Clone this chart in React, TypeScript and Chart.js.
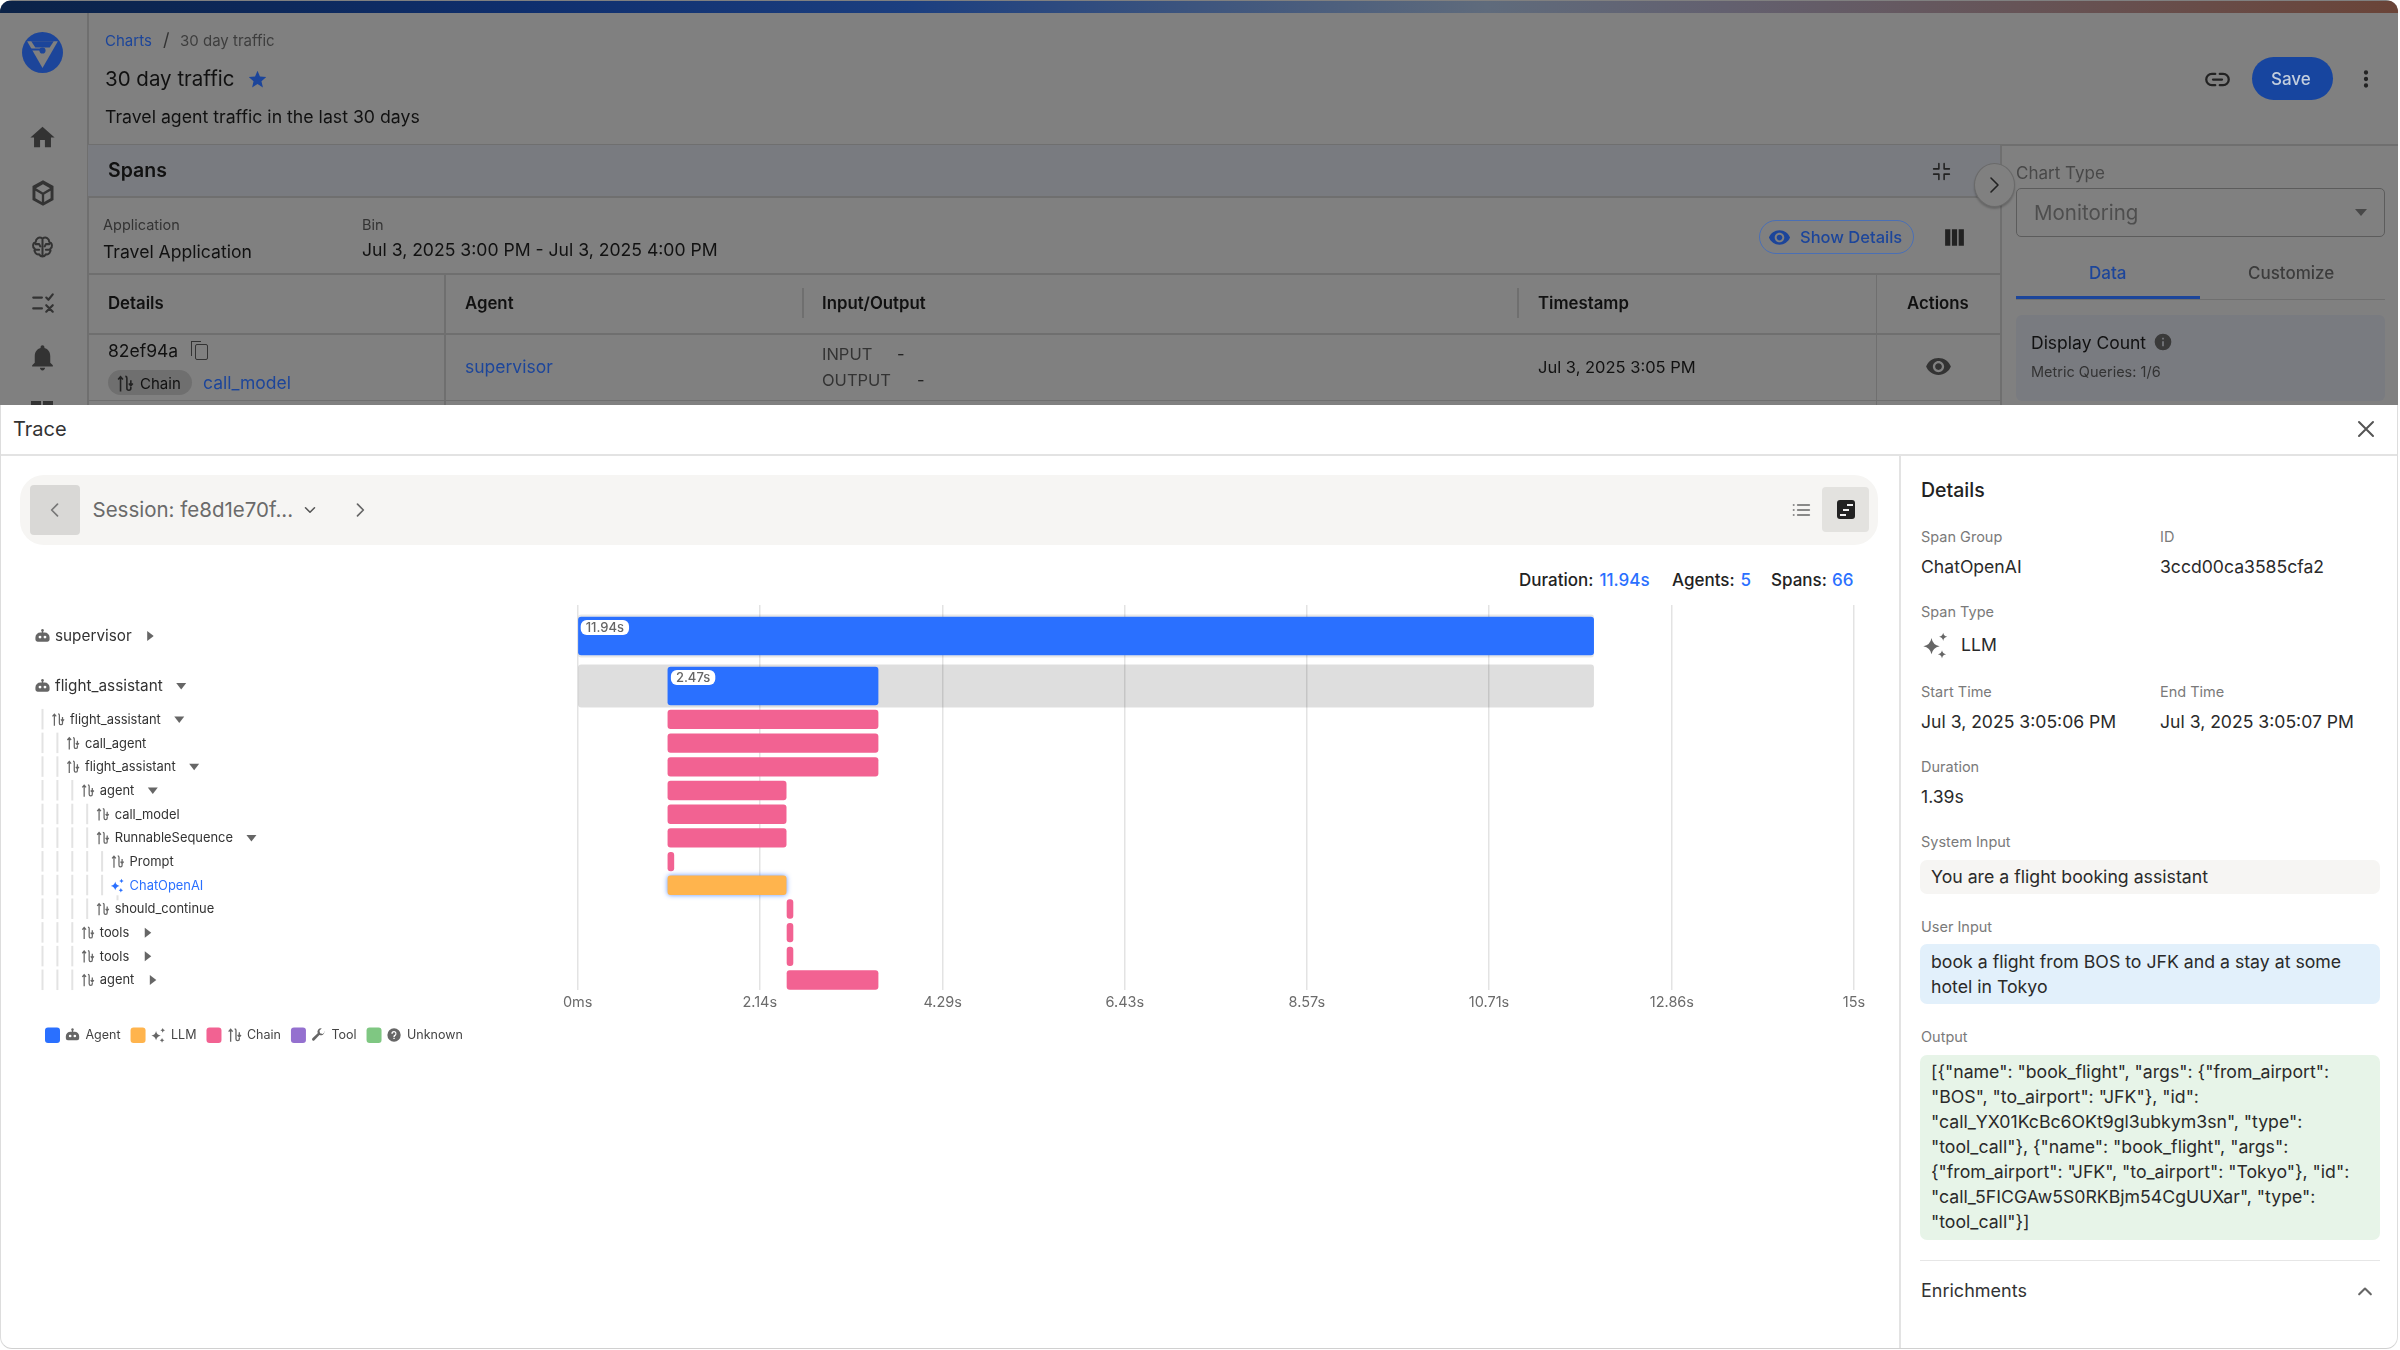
import React, { useEffect, useRef } from "react";
import Chart from "chart.js/auto";

// trace rows, top to bottom
const rowNames = ["supervisor", "flight_assistant", "flight_assistant", "call_agent", "flight_assistant", "agent", "call_model", "RunnableSequence", "Prompt", "ChatOpenAI", "should_continue", "tools", "tools", "agent"];
const rowDepths = [0, 0, 1, 2, 2, 3, 4, 4, 5, 5, 4, 3, 3, 3];
const rowCarets = ["right", "down", "down", "", "down", "down", "", "down", "", "", "", "right", "right", "right"];
const rowPositions = [1.31, 3.42, 4.83, 5.83, 6.83, 7.83, 8.83, 9.83, 10.83, 11.83, 12.83, 13.83, 14.83, 15.83];
const rowKinds = ["Agent", "Agent", "Chain", "Chain", "Chain", "Chain", "Chain", "Chain", "Chain", "LLM", "Chain", "Chain", "Chain", "Chain"];
const spanStarts = [0, 1.06, 1.06, 1.06, 1.06, 1.06, 1.06, 1.06, 1.06, 1.06, 2.46, 2.46, 2.46, 2.46];
const spanEnds = [11.94, 3.53, 3.53, 3.53, 3.53, 2.45, 2.45, 2.45, 1.13, 2.45, 2.53, 2.53, 2.53, 3.53];
const durationLabels = ["11.94s", "2.47s"];

// x axis
const tickValues = [0, 2.14, 4.29, 6.43, 8.57, 10.71, 12.86, 15];
const tickLabels = ["0ms", "2.14s", "4.29s", "6.43s", "8.57s", "10.71s", "12.86s", "15s"];

// legend
const legendNames = ["Agent", "LLM", "Chain", "Tool", "Unknown"];
const legendColors = ["#2a70ff", "#ffb44d", "#f26292", "#9470cf", "#7fc782"];

const FONT = "Inter, sans-serif";
const BLUE = "#2a70ff";

const iconPaths: Record<string, string> = {
  Agent: "M12 2a2 2 0 0 1 1 3.7V7h2a7 7 0 0 1 7 7v3a3 3 0 0 1-3 3H5a3 3 0 0 1-3-3v-3a7 7 0 0 1 7-7h2V5.7A2 2 0 0 1 12 2ZM8.5 11.5a2 2 0 1 0 0 4a2 2 0 0 0 0-4ZM15.5 11.5a2 2 0 1 0 0 4a2 2 0 0 0 0-4Z",
  LLM: "M9 6Q10 12 16 13Q10 14 9 20Q8 14 2 13Q8 12 9 6ZM19 1.5Q19.5 4.5 22.5 5Q19.5 5.5 19 8.5Q18.5 5.5 15.5 5Q18.5 4.5 19 1.5ZM18 16.5Q18.5 19.5 21.5 20Q18.5 20.5 18 23.5Q17.5 20.5 14.5 20Q17.5 19.5 18 16.5Z",
  Chain: "M7 22V4M4 7l3-3.5L10 7M13 3a2 2 0 0 1 2 2v13a2.5 2.5 0 0 0 5 0V8M17.5 12l2.5 3 2.5-3",
  Tool: "M21 7a5.5 5.5 0 0 1-7.5 5.1L6 20a2.1 2.1 0 0 1-3-3l7.9-7.5A5.5 5.5 0 0 1 17 2l-3.5 3.5 1 4 4 1L22 7Z",
  Unknown: "M12 2a10 10 0 1 0 0 20a10 10 0 0 0 0-20ZM11 16h2v2h-2ZM12 6a4 4 0 0 0-4 4h2a2 2 0 1 1 3 1.7c-1.2.7-2 1.5-2 3.3h2c0-1 .5-1.5 1.3-2A4 4 0 0 0 12 6Z",
  home: "M10 20v-6h4v6h5v-8h3L12 3 2 12h3v8z",
  box: "M12 1 21 6v12l-9 5-9-5V6zM12 11.500 18 8 12 4.500 6 8zM11 13.300 5.500 10V16.500L11 19.700zM13 13.300V19.700L18.500 16.500V10z",
  bell: "M12 22c1.100 0 2-.9 2-2h-4c0 1.100.9 2 2 2zm6-6v-5c0-3.070-1.630-5.640-4.500-6.320V4c0-.83-.67-1.500-1.500-1.500s-1.500.67-1.500 1.500v.68C7.640 5.360 6 7.920 6 11v5l-2 2v1h16v-1l-2-2z",
  eye: "M12 4.500C7 4.500 2.730 7.610 1 12c1.730 4.390 6 7.500 11 7.500s9.270-3.110 11-7.500c-1.730-4.390-6-7.500-11-7.500zM12 17c-2.760 0-5-2.240-5-5s2.240-5 5-5 5 2.240 5 5-2.240 5-5 5zm0-8c-1.660 0-3 1.340-3 3s1.340 3 3 3 3-1.340 3-3-1.340-3-3-3z",
  star: "M12 17.270 18.180 21l-1.640-7.030L22 9.240l-7.190-.61L12 2 9.190 8.630 2 9.240l5.460 4.730L5.820 21z",
  info: "M12 2a10 10 0 1 0 0 20a10 10 0 0 0 0-20ZM11 11h2v6h-2ZM11 7h2v2h-2Z",
  more: "M12 8a2 2 0 1 0 0-4a2 2 0 0 0 0 4ZM12 14a2 2 0 1 0 0-4a2 2 0 0 0 0 4ZM12 20a2 2 0 1 0 0-4a2 2 0 0 0 0 4Z",
  columns: "M3 4h5v16H3zM9.500 4h5v16h-5zM16 4h5v16h-5z",
};

const isStroked = (name: string) => name === "Chain";

function drawIcon(ctx: CanvasRenderingContext2D, name: string, cx: number, cy: number, size: number, color: string) {
  const p = new Path2D(iconPaths[name]);
  ctx.save();
  ctx.translate(cx - size / 2, cy - size / 2);
  ctx.scale(size / 24, size / 24);
  if (isStroked(name)) {
    ctx.strokeStyle = color;
    ctx.lineWidth = 2;
    ctx.stroke(p);
  } else {
    ctx.fillStyle = color;
    ctx.fill(p, "evenodd");
  }
  ctx.restore();
}

function drawCaret(ctx: CanvasRenderingContext2D, dir: string, x: number, y: number) {
  ctx.fillStyle = "#666666";
  ctx.beginPath();
  if (dir === "down") {
    ctx.moveTo(x - 5, y - 3);
    ctx.lineTo(x + 5, y - 3);
    ctx.lineTo(x, y + 3.500);
  } else {
    ctx.moveTo(x - 3, y - 5);
    ctx.lineTo(x + 3.500, y);
    ctx.lineTo(x - 3, y + 5);
  }
  ctx.closePath();
  ctx.fill();
}

// span tree on the left of the plot, placed with the y scale
const treePlugin = {
  id: "spanTree",
  afterDraw(chart: any) {
    const { ctx, scales } = chart;
    const y = scales.y;
    ctx.save();
    ctx.textBaseline = "middle";
    rowNames.forEach((name, i) => {
      const cy = y.getPixelForValue(rowPositions[i]);
      const depth = rowDepths[i];
      for (let k = 1; k <= depth; k++) {
        ctx.fillStyle = "#e3e3e3";
        ctx.fillRect(41.500 + (k - 1) * 14.900, cy - 10.500, 2, 20.500);
      }
      const top = depth === 0;
      const iconX = top ? 42.500 : 57.500 + (depth - 1) * 14.900;
      const textX = top ? 55 : 70 + (depth - 1) * 14.900;
      const selected = i === 9;
      drawIcon(ctx, rowKinds[i], iconX, cy, top ? 17 : 15, selected ? BLUE : "#666666");
      ctx.font = `${top ? 15.300 : 12.900}px ${FONT}`;
      ctx.fillStyle = selected ? BLUE : "#333333";
      ctx.fillText(name, textX, cy + 0.500);
      if (rowCarets[i]) drawCaret(ctx, rowCarets[i], textX + ctx.measureText(name).width + 18.500, cy);
    });
    ctx.fillStyle = "#e3e3e3";
    ctx.fillRect(116.500, y.getPixelForValue(rowPositions[9]) + 10, 2, 5);

    // legend row under the axis
    const ly = 475;
    let lx = 45;
    ctx.font = `12.500px ${FONT}`;
    legendNames.forEach((name, i) => {
      ctx.fillStyle = legendColors[i];
      ctx.beginPath();
      ctx.roundRect(lx, ly - 7.500, 15, 15.500, 3);
      ctx.fill();
      lx += 21;
      drawIcon(ctx, name, lx + 6.500, ly, 16, "#666666");
      lx += 19.500;
      ctx.fillStyle = "#444444";
      ctx.fillText(name, lx, ly + 0.500);
      lx += ctx.measureText(name).width + 10;
    });
    ctx.restore();
  },
};

// duration pills on the two agent bars
const pillPlugin = {
  id: "durationPills",
  afterDatasetsDraw(chart: any) {
    const { ctx, scales } = chart;
    ctx.save();
    ctx.textBaseline = "middle";
    ctx.font = `500 13px ${FONT}`;
    durationLabels.forEach((label, i) => {
      const px = scales.x.getPixelForValue(spanStarts[i]) + 3;
      const py = scales.y.getPixelForValue(rowPositions[i]) - 16;
      const w = ctx.measureText(label).width + 10;
      ctx.fillStyle = "#ffffff";
      ctx.beginPath();
      ctx.roundRect(px, py, w, 15, 6);
      ctx.fill();
      ctx.fillStyle = "#666666";
      ctx.fillText(label, px + 5, py + 8);
    });
    ctx.restore();
  },
};

// soft blue glow around the selected LLM span
const glowPlugin = {
  id: "selectedGlow",
  beforeDatasetDraw(chart: any, args: any) {
    if (chart.data.datasets[args.index].label !== "LLM") return;
    chart.ctx.save();
    chart.ctx.shadowColor = "rgba(70,130,255,0.85)";
    chart.ctx.shadowBlur = 5;
  },
  afterDatasetDraw(chart: any, args: any) {
    if (chart.data.datasets[args.index].label !== "LLM") return;
    chart.ctx.restore();
  },
};

const pointsFor = (kind: string) =>
  rowNames.map((_, i) => i).filter((i) => rowKinds[i] === kind).map((i) => ({ x: [spanStarts[i], spanEnds[i]], y: rowPositions[i] }));

function TraceChart() {
  const ref = useRef<HTMLCanvasElement>(null);
  useEffect(() => {
    if (!ref.current) return;
    const chart = new Chart(ref.current, {
      type: "bar",
      plugins: [treePlugin, pillPlugin, glowPlugin],
      data: {
        datasets: [
          { label: "Agent", data: pointsFor("Agent"), backgroundColor: legendColors[0], barThickness: 38, grouped: false, borderRadius: 3, borderSkipped: false },
          { label: "LLM", data: pointsFor("LLM"), backgroundColor: legendColors[1], barThickness: 19, grouped: false, borderRadius: 3, borderSkipped: false },
          { label: "Chain", data: pointsFor("Chain"), backgroundColor: legendColors[2], barThickness: 18.700, grouped: false, borderRadius: 3, borderSkipped: false },
          {
            label: "Track",
            data: [0, 1].map((i) => ({ x: [0, spanEnds[0]], y: rowPositions[i] })),
            backgroundColor: ["rgba(0,0,0,0.09)", "rgba(0,0,0,0.13)"],
            barThickness: 42.500,
            grouped: false,
            borderRadius: 3,
            borderSkipped: false,
          },
        ] as any,
      },
      options: {
        indexAxis: "y",
        animation: false,
        responsive: false,
        devicePixelRatio: 1,
        layout: { padding: { left: 577.700, right: 46, top: 45, bottom: 50 } },
        plugins: { legend: { display: false }, tooltip: { enabled: false } },
        scales: {
          y: { type: "linear", display: false, reverse: true, min: 0, max: 16.250, offset: false },
          x: {
            type: "linear",
            min: 0,
            max: 15,
            afterBuildTicks: (axis: any) => {
              axis.ticks = tickValues.map((value) => ({ value }));
            },
            afterFit: (axis: any) => {
              axis.height = 20;
            },
            grid: { color: "#e3e3e3", lineWidth: 1.500, tickLength: 0 },
            border: { display: false },
            ticks: {
              autoSkip: false,
              maxRotation: 0,
              padding: 4,
              color: "#6b6b6b",
              font: { family: "Inter", size: 14.500 },
              callback: (_v: any, i: number) => tickLabels[i],
            },
          },
        },
      } as any,
    });
    return () => chart.destroy();
  }, []);
  return <canvas ref={ref} width={1900} height={500} style={{ position: "absolute", left: 0, top: 560, width: 1900, height: 500 }} />;
}

type TProps = { x: number; y: number; s: number; c: string; w?: number; children: React.ReactNode };
const T = ({ x, y, s, c, w, children }: TProps) => (
  <span style={{ position: "absolute", left: x, top: y, transform: "translateY(-50%)", fontSize: s, color: c, fontWeight: w ?? 400, whiteSpace: "nowrap", lineHeight: 1 }}>{children}</span>
);

const Box = ({ x, y, w, h, style }: { x: number; y: number; w: number; h: number; style: React.CSSProperties }) => (
  <div style={{ position: "absolute", left: x, top: y, width: w, height: h, boxSizing: "border-box", ...style }} />
);

const Ico = ({ name, x, y, size, c }: { name: string; x: number; y: number; size: number; c: string }) => (
  <svg viewBox="0 0 24 24" width={size} height={size} style={{ position: "absolute", left: x - size / 2, top: y - size / 2 }}>
    {isStroked(name) ? <path d={iconPaths[name]} fill="none" stroke={c} strokeWidth={2} /> : <path d={iconPaths[name]} fill={c} fillRule="evenodd" />}
  </svg>
);

const Line = ({ d, x, y, size, c, sw = 2 }: { d: string; x: number; y: number; size: number; c: string; sw?: number }) => (
  <svg viewBox="0 0 24 24" width={size} height={size} style={{ position: "absolute", left: x - size / 2, top: y - size / 2 }}>
    <path d={d} fill="none" stroke={c} strokeWidth={sw} strokeLinecap="round" strokeLinejoin="round" />
  </svg>
);

const hline = (y: number, x = 87, w = 2311, c = "#6f6f6f") => <Box x={x} y={y} w={w} h={1.500} style={{ background: c }} />;
const vline = (x: number, y: number, h: number, c = "#6f6f6f") => <Box x={x} y={y} w={1.500} h={h} style={{ background: c }} />;

function Background() {
  return (
    <div style={{ position: "absolute", left: 0, top: 0, width: 2398, height: 420, background: "#808080", borderRadius: "12px 12px 0 0", overflow: "hidden", filter: "blur(0.5px)" }}>
      <Box x={0} y={1} w={2398} h={12} style={{ background: "linear-gradient(90deg,#0b2247 0,#0f2f6e 22%,#1c3f80 38%,#5f6b7c 62%,#63606f 72%,#6a4438 100%)" }} />
      {vline(87, 13, 392)}
      <svg viewBox="0 0 40 40" width={41} height={41} style={{ position: "absolute", left: 22, top: 32 }}>
        <circle cx="20" cy="20" r="20" fill="#1c459a" />
        <path d="M5 9H35L20 35Z" fill="#808080" />
        <path d="M9 9H31L27 15H13Z" fill="#1c459a" />
        <path d="M8 17H20" stroke="#1c459a" strokeWidth="2" />
        <circle cx="20" cy="18" r="3" fill="#1c459a" />
      </svg>
      <Ico name="home" x={42.500} y={137} size={29} c="#333333" />
      <Ico name="box" x={42.500} y={193} size={28} c="#333333" />
      <Line d="M12 4v16M12 4c-3-2-6 0-6 3-3 1-3 5-1 6-1 3 2 6 4 5 1 2 3 2 3 2M12 4c3-2 6 0 6 3 3 1 3 5 1 6 1 3-2 6-4 5-1 2-3 2-3 2M6 9h3l1 2M18 9h-3l-1 2M6 14h3M18 14h-3" x={42.500} y={247} size={27} c="#333333" sw={1.800} />
      <Line d="M3 7h8M3 17h8M15 7l2 2 4-5M15 14l6 6M21 14l-6 6" x={42.500} y={303} size={26} c="#333333" />
      <Ico name="bell" x={42.500} y={357} size={31} c="#333333" />
      <Box x={31} y={401} w={10} h={6} style={{ background: "#333333" }} />
      <Box x={43} y={401} w={10} h={6} style={{ background: "#333333" }} />

      <T x={105} y={40} s={15} c="#1c459a">Charts</T>
      <T x={163} y={40} s={18} c="#333333">/</T>
      <T x={180} y={40} s={15} c="#3d3d3d">30 day traffic</T>
      <T x={105} y={79} s={20.500} c="#111111">30 day traffic</T>
      <Ico name="star" x={257.500} y={79} size={21} c="#1c459a" />
      <T x={105} y={117} s={17.700} c="#111111">Travel agent traffic in the last 30 days</T>
      <Line d="M10 7H7a5 5 0 0 0 0 10h3M14 7h3a5 5 0 0 1 0 10h-3M8 12h8" x={2217} y={79} size={27} c="#222222" />
      <Box x={2251.500} y={57} w={81} h={43} style={{ background: "#17459f", borderRadius: 22 }} />
      <T x={2271} y={79} s={17} c="#c3cede" w={500}>Save</T>
      <Ico name="more" x={2366} y={79} size={26} c="#222222" />

      {hline(144)}
      <Box x={88} y={145} w={1912} h={51} style={{ background: "#797b80" }} />
      <T x={108} y={171} s={19.500} c="#111111" w={600}>Spans</T>
      <Line d="M9 3v6H3M15 3v6h6M9 21v-6H3M15 21v-6h6" x={1941} y={171} size={21} c="#222222" sw={1.800} />
      {hline(196, 87, 1913)}
      {vline(2000, 144, 276)}
      <T x={103} y={225} s={14.500} c="#333333">Application</T>
      <T x={103} y={252} s={17.600} c="#111111">Travel Application</T>
      <T x={362} y={225} s={14.500} c="#333333">Bin</T>
      <T x={362} y={250} s={17.600} c="#111111">Jul 3, 2025 3:00 PM - Jul 3, 2025 4:00 PM</T>
      <Box x={1758.500} y={220} w={155.500} h={34} style={{ border: "1.500px solid #4a6fb5", borderRadius: 17 }} />
      <Ico name="eye" x={1779} y={237} size={23} c="#1c459a" />
      <T x={1800} y={237} s={16.500} c="#1c459a" w={500}>Show Details</T>
      <Ico name="columns" x={1954} y={237} size={25} c="#222222" />

      {hline(273, 87, 1913)}
      {hline(333, 87, 1913)}
      {hline(399.500, 87, 1913)}
      {vline(444, 273, 132)}
      {vline(802, 288, 30)}
      {vline(1517, 288, 30)}
      {vline(1875.500, 273, 132)}
      <T x={108} y={303} s={16.800} c="#111111" w={600}>Details</T>
      <T x={465} y={303} s={16.800} c="#111111" w={600}>Agent</T>
      <T x={822} y={303} s={16.800} c="#111111" w={600}>Input/Output</T>
      <T x={1538} y={303} s={16.800} c="#111111" w={600}>Timestamp</T>
      <T x={1907} y={303} s={16.800} c="#111111" w={600}>Actions</T>

      <T x={108} y={351} s={17.500} c="#111111">82ef94a</T>
      <Box x={195} y={344} w={13} h={16} style={{ border: "1.500px solid #333", borderRadius: 2 }} />
      <Box x={191} y={341} w={10} h={15} style={{ borderLeft: "1.500px solid #333", borderTop: "1.500px solid #333" }} />
      <Box x={108} y={370} w={84} h={25} style={{ background: "#6f6f6f", borderRadius: 13 }} />
      <Ico name="Chain" x={124} y={383} size={19} c="#222222" />
      <T x={140} y={383} s={15} c="#111111">Chain</T>
      <T x={203} y={383} s={17.500} c="#1c459a">call_model</T>
      <T x={465} y={367} s={17.500} c="#1c459a">supervisor</T>
      <T x={822} y={354} s={16.500} c="#333333">INPUT</T>
      <T x={897} y={354} s={16.500} c="#222222">-</T>
      <T x={822} y={380} s={16.500} c="#333333">OUTPUT</T>
      <T x={917} y={380} s={16.500} c="#222222">-</T>
      <T x={1538} y={367} s={16.500} c="#111111">Jul 3, 2025 3:05 PM</T>
      <Ico name="eye" x={1938} y={366} size={27} c="#333333" />

      <Box x={1974} y={163} w={41} h={44} style={{ background: "#808080", border: "1.500px solid #6a6a6a", borderRadius: "50%", boxShadow: "0 2px 2px rgba(0,0,0,0.2)" }} />
      <Line d="M9 5l7 7-7 7" x={1994} y={185} size={24} c="#222222" sw={1.600} />
      <T x={2016} y={173} s={17} c="#484848">Chart Type</T>
      <Box x={2016} y={188} w={369} h={49} style={{ border: "1.500px solid #5c5c5c", borderRadius: 5 }} />
      <T x={2034} y={213} s={20.500} c="#4e4e4e">Monitoring</T>
      <svg width={12} height={7} style={{ position: "absolute", left: 2355, top: 209 }}><path d="M0 0H12L6 7Z" fill="#484848" /></svg>
      <T x={2089} y={273} s={17} c="#1c459a" w={500}>Data</T>
      <T x={2248} y={273} s={17} c="#3c3c3c" w={500}>Customize</T>
      <Box x={2016} y={298.500} w={369} h={1.500} style={{ background: "#6f6f6f" }} />
      <Box x={2016} y={296} w={184} h={3} style={{ background: "#1c459a" }} />
      <Box x={2016} y={315} w={369} h={86} style={{ background: "#797b80", borderRadius: 6 }} />
      <T x={2031} y={343} s={17.500} c="#111111">Display Count</T>
      <Ico name="info" x={2162.500} y={342} size={20} c="#3a3a3a" />
      <T x={2031} y={372} s={14.500} c="#333333">Metric Queries: 1/6</T>
    </div>
  );
}

function Toolbar() {
  return (
    <>
      <Box x={20} y={475} w={1858} h={70} style={{ background: "#f6f5f3", borderRadius: 24 }} />
      <Box x={30} y={485} w={50} h={50} style={{ background: "#d9d8d6", borderRadius: 4 }} />
      <Line d="M15 5l-7 7 7 7" x={55} y={510} size={20} c="#777777" />
      <T x={92.500} y={510} s={20.500} c="#6a6a6a">Session: fe8d1e70f...</T>
      <Line d="M6 9l6 6 6-6" x={310} y={510} size={18} c="#555555" />
      <Line d="M9 5l7 7-7 7" x={360} y={510} size={20} c="#666666" />
      <Line d="M8 6h14M8 12h14M8 18h14M3 6h.5M3 12h.5M3 18h.5" x={1801} y={510} size={20} c="#666666" />
      <Box x={1822} y={487} w={47} h={45} style={{ background: "#e3e2df", borderRadius: 4 }} />
      <Box x={1837} y={500} w={18} h={19} style={{ background: "#222222", borderRadius: 3 }} />
      <Box x={1847} y={504} w={6} h={2} style={{ background: "#f0f0f0" }} />
      <Box x={1843} y={509} w={6} h={2} style={{ background: "#f0f0f0" }} />
      <Box x={1840} y={514} w={6} h={2} style={{ background: "#f0f0f0" }} />
      <T x={1519} y={580} s={17} c="#222222" w={500}>Duration:</T>
      <T x={1599.500} y={580} s={17} c={BLUE} w={500}>11.94s</T>
      <T x={1672} y={580} s={17} c="#222222" w={500}>Agents:</T>
      <T x={1740.500} y={580} s={17} c={BLUE} w={500}>5</T>
      <T x={1771} y={580} s={17} c="#222222" w={500}>Spans:</T>
      <T x={1832} y={580} s={17} c={BLUE} w={500}>66</T>
    </>
  );
}

function DetailsPanel() {
  const label = "#7a7a7a";
  const value = "#2a2a2a";
  const outputLines = [
    '[{"name": "book_flight", "args": {"from_airport":',
    '"BOS", "to_airport": "JFK"}, "id":',
    '"call_YX01KcBc6OKt9gl3ubkym3sn", "type":',
    '"tool_call"}, {"name": "book_flight", "args":',
    '{"from_airport": "JFK", "to_airport": "Tokyo"}, "id":',
    '"call_5FICGAw5S0RKBjm54CgUUXar", "type":',
    '"tool_call"}]',
  ];
  return (
    <>
      {vline(1899, 455, 893, "#e3e3e3")}
      <T x={1921} y={490.500} s={19.500} c="#222222" w={500}>Details</T>
      <T x={1921} y={537} s={14.500} c={label}>Span Group</T>
      <T x={2160} y={537} s={14.500} c={label}>ID</T>
      <T x={1921} y={567} s={17.600} c={value}>ChatOpenAI</T>
      <T x={2160} y={567} s={17.600} c={value}>3ccd00ca3585cfa2</T>
      <T x={1921} y={612} s={14.500} c={label}>Span Type</T>
      <Ico name="LLM" x={1935} y={645} size={28} c="#666666" />
      <T x={1961} y={645} s={17.600} c={value}>LLM</T>
      <T x={1921} y={692} s={14.500} c={label}>Start Time</T>
      <T x={2160} y={692} s={14.500} c={label}>End Time</T>
      <T x={1921} y={722} s={17.600} c={value}>Jul 3, 2025 3:05:06 PM</T>
      <T x={2160} y={722} s={17.600} c={value}>Jul 3, 2025 3:05:07 PM</T>
      <T x={1921} y={767} s={14.500} c={label}>Duration</T>
      <T x={1921} y={797} s={17.600} c={value}>1.39s</T>
      <T x={1921} y={842} s={14.500} c={label}>System Input</T>
      <Box x={1920} y={859.500} w={460} h={34} style={{ background: "#f6f5f3", borderRadius: 7 }} />
      <T x={1931} y={877} s={17.700} c={value}>You are a flight booking assistant</T>
      <T x={1921} y={927} s={14.500} c={label}>User Input</T>
      <Box x={1920} y={944} w={460} h={60} style={{ background: "#e2f0fb", borderRadius: 7 }} />
      <T x={1931} y={962} s={17.700} c={value}>book a flight from BOS to JFK and a stay at some</T>
      <T x={1931} y={987} s={17.700} c={value}>hotel in Tokyo</T>
      <T x={1921} y={1037} s={14.500} c={label}>Output</T>
      <Box x={1920} y={1054.500} w={460} h={185} style={{ background: "#e7f4e8", borderRadius: 7 }} />
      {outputLines.map((line, i) => (
        <T key={i} x={1931} y={1072 + i * 25} s={17.700} c={value}>{line}</T>
      ))}
      <Box x={1920} y={1259.500} w={460} h={1.500} style={{ background: "#e6e6e6" }} />
      <T x={1921} y={1291} s={18} c="#333333">Enrichments</T>
      <Line d="M5 16l7-7 7 7" x={2365} y={1291} size={20} c="#666666" sw={2.500} />
    </>
  );
}

export default function App() {
  return (
    <div style={{ position: "fixed", left: 0, top: 0, width: 2400, height: 1350, background: "#ffffff", overflow: "hidden", fontFamily: FONT }}>
      <Background />
      <div style={{ position: "absolute", left: 0, top: 405, width: 2398, height: 944, boxSizing: "border-box", background: "#ffffff", borderLeft: "1.500px solid #dddddd", borderRight: "1.500px solid #dddddd", borderBottom: "1.500px solid #d0d0d0", borderRadius: "0 0 12px 12px" }} />
      <T x={13} y={429} s={20} c="#333333">Trace</T>
      <Line d="M5 5l14 14M19 5L5 19" x={2366} y={429} size={24} c="#555555" />
      <Box x={1} y={454} w={2396} h={1.500} style={{ background: "#e3e3e3" }} />
      <Toolbar />
      <TraceChart />
      <DetailsPanel />
    </div>
  );
}
